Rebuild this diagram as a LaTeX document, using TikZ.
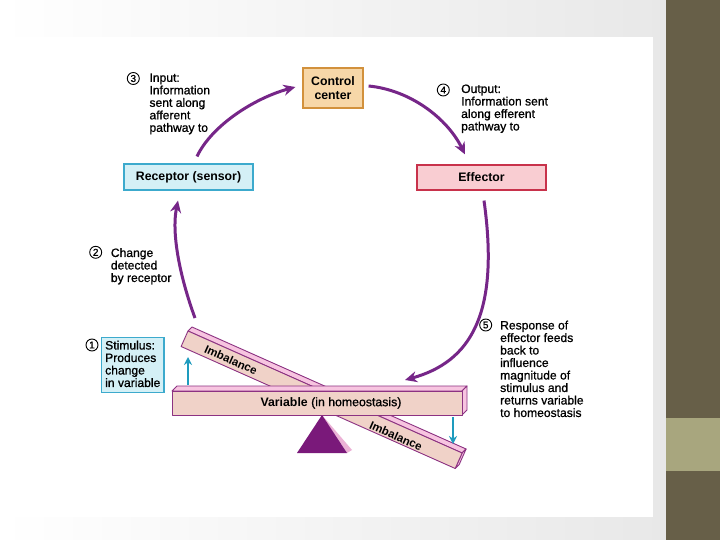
\documentclass[tikz,border=0pt]{standalone}
\usepackage{fontspec}
\setmainfont{Liberation Sans}
\newfontfamily\lblfont[FakeBold=0.9]{Liberation Sans}
\usetikzlibrary{arrows.meta,calc}
\definecolor{bardark}{RGB}{103,95,72}
\definecolor{barlight}{RGB}{168,166,126}
\definecolor{slidegray}{RGB}{232,232,232}
\definecolor{flowc}{RGB}{118,38,136}
\definecolor{ccfill}{RGB}{247,215,168}
\definecolor{ccdraw}{RGB}{210,145,60}
\definecolor{recfill}{RGB}{212,240,246}
\definecolor{recdraw}{RGB}{60,170,205}
\definecolor{efffill}{RGB}{249,205,210}
\definecolor{effdraw}{RGB}{200,50,75}
\definecolor{beamfront}{RGB}{240,210,200}
\definecolor{beamtop}{RGB}{247,196,224}
\definecolor{beamline}{RGB}{140,50,130}
\definecolor{fulc}{RGB}{122,25,122}
\definecolor{fulcside}{RGB}{236,178,214}
\definecolor{cyanarr}{RGB}{30,155,190}
\tikzset{
  lbl/.style={anchor=north west, align=left, inner sep=0pt, font=\lblfont\fontsize{12.1}{12.5}\selectfont},
  num/.style={circle, draw=black, line width=0.9pt, inner sep=0pt, minimum size=12pt, font=\lblfont\fontsize{10}{10}\selectfont},
  boxtitle/.style={line width=1.2pt, inner sep=0pt, align=center, font=\bfseries\fontsize{12.3}{13.5}\selectfont},
  flow/.style={draw=flowc, line width=3pt, -{Stealth[length=12pt,width=11pt]}},
  upd/.style={draw=cyanarr, line width=2.6pt, -{Stealth[length=8pt,width=8pt]}},
  beam/.style={draw=beamline, line width=0.9pt, line join=round},
  imb/.style={font=\bfseries\fontsize{11.5}{12}\selectfont, rotate=-24, inner sep=0pt}
}
\begin{document}
\begin{tikzpicture}[x=1pt,y=-1pt]
\useasboundingbox (0,0) rectangle (720,540);
% slide background
\shade[left color=white, right color=slidegray] (0,0) rectangle (666,540);
\fill[white] (0,37) rectangle (653,517);
\fill[bardark] (666,0) rectangle (720,540);
\fill[barlight] (666,418) rectangle (720,471);

% boxes
\node[boxtitle, draw=ccdraw, fill=ccfill, minimum width=60pt, minimum height=40pt] (cc) at (333,88) {Control\\center};
\node[boxtitle, draw=recdraw, fill=recfill, minimum width=129pt, minimum height=26pt] (rec) at (188.5,177) {Receptor (sensor)};
\node[boxtitle, draw=effdraw, fill=efffill, minimum width=129pt, minimum height=25pt] (eff) at (481.5,177.5) {Effector};

% labels
\node[num] (n3) at (133.3,78.5) {3};
\node[lbl] (t3) at (149.3,73.3) {Input:\\Information\\sent along\\afferent\\pathway to};
\node[num] (n4) at (443.3,90) {4};
\node[lbl] (t4) at (461,84.3) {Output:\\Information sent\\along efferent\\pathway to};
\node[num] (n2) at (95.7,252.3) {2};
\node[lbl] (t2) at (110.7,248) {Change\\detected\\by receptor};
\node[num] (n1) at (92,345) {1};
\node[draw=recdraw, fill=recfill, line width=1.2pt, minimum width=62.3pt, minimum height=55pt, inner sep=0pt] (stimbox) at (132.85,364.8) {};
\node[lbl] (t1) at (105,340.5) {Stimulus:\\Produces\\change\\in variable};
\node[num] (n5) at (485.7,325) {5};
\node[lbl] (t5) at (500,320.5) {Response of\\effector feeds\\back to\\influence\\magnitude of\\stimulus and\\returns variable\\to homeostasis};

% tilted beam
\filldraw[beam, fill=beamtop] (188,331) -- (462.1,453) -- (466.1,449) -- (192,327) -- cycle;
\filldraw[beam, fill=beamtop] (462.1,453) -- (466.1,449) -- (459.2,464.5) -- (455.2,468.5) -- cycle;
\filldraw[beam, fill=beamfront] (188,331) -- (462.1,453) -- (455.2,468.5) -- (181.1,346.5) -- cycle;
\node[imb] (imb1) at (231,360) {Imbalance};
\node[imb] (imb2) at (396,436) {Imbalance};

% fulcrum
\fill[fulcside] (322,415) -- (352,450) -- (347,453) -- cycle;
\fill[fulc] (322,415) -- (297,453) -- (347,453) -- cycle;

% horizontal beam
\filldraw[beam, fill=beamtop] (172,391) -- (462,391) -- (467,386) -- (177,386) -- cycle;
\filldraw[beam, fill=beamtop] (462,391) -- (467,386) -- (467,410) -- (462,415) -- cycle;
\filldraw[beam, fill=beamfront] (172,391) rectangle (462,415);
\node[inner sep=0pt, font=\fontsize{12.3}{13}\selectfont] (var) at (331,403) {\textbf{Variable} {\lblfont (in homeostasis)}};

% cyan arrows
\coordinate (ua) at (188,385);
\coordinate (ub) at (188,357);
\coordinate (da) at (453,417);
\coordinate (db) at (453,444);
\draw[upd] (ua) -- (ub);
\draw[upd] (da) -- (db);

% flow arrows
\coordinate (r1) at ($(rec.north)+(8.5,-7)$);
\coordinate (c1) at ($(cc.west)+(-7,-1)$);
\coordinate (c2) at ($(cc.east)+(5,-2)$);
\coordinate (e1) at ($(eff.north)+(-16.5,-10)$);
\coordinate (e2) at ($(eff.south)+(2.5,10)$);
\coordinate (v1) at (405,380);
\coordinate (v2) at (195,318);
\coordinate (r2) at ($(rec.south)+(-10.5,10)$);
\draw[flow] (r1) .. controls (212,125) and (255,98) .. (c1);
\draw[flow] (c2) .. controls (410,90) and (447,118) .. (e1);
\draw[flow] (e2) .. controls (500,315) and (470,362) .. (v1);
\draw[flow] (v2) .. controls (181,280) and (171,235) .. (r2);
\end{tikzpicture}
\end{document}
